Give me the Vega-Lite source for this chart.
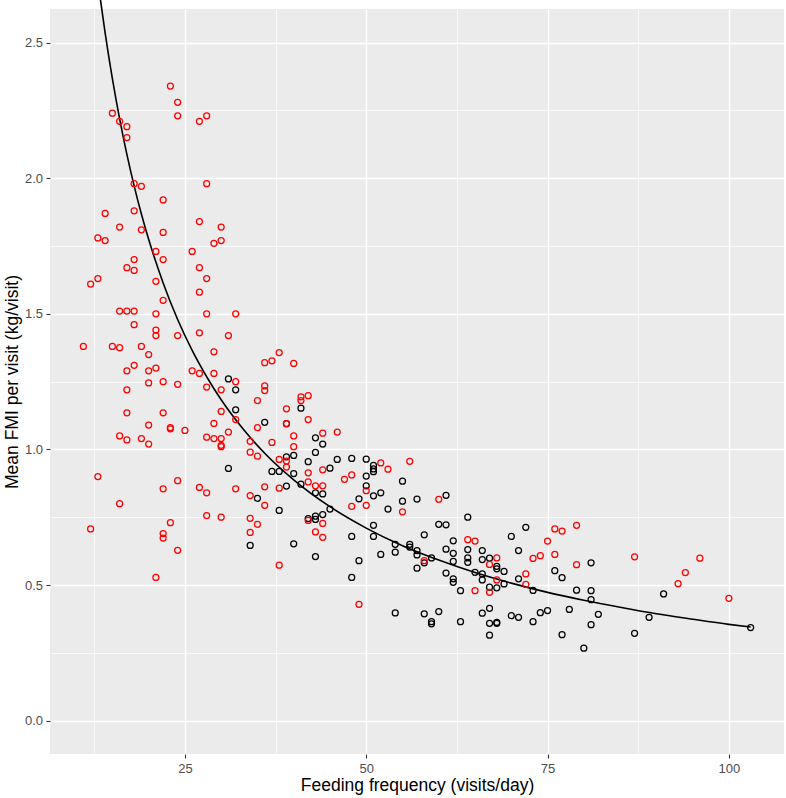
{
  "$schema": "https://vega.github.io/schema/vega-lite/v6.json",
  "width": 734,
  "height": 745,
  "autosize": "none",
  "padding": {"left": 50, "top": 9, "right": 2, "bottom": 44},
  "background": "white",
  "datasets": {
    "pts": [
      {"freq": 31, "fmi": 1.26, "grp": "black"}, {"freq": 32, "fmi": 1.22, "grp": "black"}, {"freq": 32, "fmi": 1.146, "grp": "black"},
      {"freq": 31, "fmi": 0.93, "grp": "black"}, {"freq": 35, "fmi": 0.82, "grp": "black"}, {"freq": 34, "fmi": 0.646, "grp": "black"},
      {"freq": 41, "fmi": 1.152, "grp": "black"}, {"freq": 36, "fmi": 1.10, "grp": "black"}, {"freq": 39, "fmi": 1.095, "grp": "black"},
      {"freq": 43, "fmi": 1.043, "grp": "black"}, {"freq": 44, "fmi": 1.02, "grp": "black"}, {"freq": 43, "fmi": 0.989, "grp": "black"},
      {"freq": 39, "fmi": 0.973, "grp": "black"}, {"freq": 40, "fmi": 0.978, "grp": "black"}, {"freq": 37, "fmi": 0.919, "grp": "black"},
      {"freq": 38, "fmi": 0.919, "grp": "black"}, {"freq": 40, "fmi": 0.911, "grp": "black"}, {"freq": 42, "fmi": 0.955, "grp": "black"},
      {"freq": 45, "fmi": 0.931, "grp": "black"}, {"freq": 46, "fmi": 0.963, "grp": "black"}, {"freq": 48, "fmi": 0.967, "grp": "black"},
      {"freq": 50, "fmi": 0.964, "grp": "black"}, {"freq": 51, "fmi": 0.941, "grp": "black"}, {"freq": 51, "fmi": 0.928, "grp": "black"},
      {"freq": 51, "fmi": 0.918, "grp": "black"}, {"freq": 41, "fmi": 0.872, "grp": "black"}, {"freq": 50, "fmi": 0.902, "grp": "black"},
      {"freq": 50, "fmi": 0.866, "grp": "black"}, {"freq": 52, "fmi": 0.84, "grp": "black"}, {"freq": 51, "fmi": 0.829, "grp": "black"},
      {"freq": 55, "fmi": 0.883, "grp": "black"}, {"freq": 55, "fmi": 0.809, "grp": "black"}, {"freq": 39, "fmi": 0.865, "grp": "black"},
      {"freq": 43, "fmi": 0.84, "grp": "black"}, {"freq": 44, "fmi": 0.836, "grp": "black"}, {"freq": 38, "fmi": 0.775, "grp": "black"},
      {"freq": 45, "fmi": 0.78, "grp": "black"}, {"freq": 49, "fmi": 0.818, "grp": "black"}, {"freq": 53, "fmi": 0.78, "grp": "black"},
      {"freq": 42, "fmi": 0.745, "grp": "black"}, {"freq": 43, "fmi": 0.754, "grp": "black"}, {"freq": 43, "fmi": 0.742, "grp": "black"},
      {"freq": 44, "fmi": 0.76, "grp": "black"}, {"freq": 40, "fmi": 0.652, "grp": "black"}, {"freq": 43, "fmi": 0.605, "grp": "black"},
      {"freq": 48, "fmi": 0.679, "grp": "black"}, {"freq": 49, "fmi": 0.59, "grp": "black"}, {"freq": 48, "fmi": 0.528, "grp": "black"},
      {"freq": 51, "fmi": 0.72, "grp": "black"}, {"freq": 51, "fmi": 0.679, "grp": "black"}, {"freq": 52, "fmi": 0.613, "grp": "black"},
      {"freq": 54, "fmi": 0.65, "grp": "black"}, {"freq": 54, "fmi": 0.621, "grp": "black"}, {"freq": 56, "fmi": 0.65, "grp": "black"},
      {"freq": 56, "fmi": 0.64, "grp": "black"}, {"freq": 54, "fmi": 0.397, "grp": "black"},
      {"freq": 57, "fmi": 0.817, "grp": "black"}, {"freq": 61, "fmi": 0.831, "grp": "black"}, {"freq": 64, "fmi": 0.75, "grp": "black"},
      {"freq": 60, "fmi": 0.724, "grp": "black"}, {"freq": 61, "fmi": 0.722, "grp": "black"}, {"freq": 58, "fmi": 0.685, "grp": "black"},
      {"freq": 57, "fmi": 0.627, "grp": "black"}, {"freq": 57, "fmi": 0.611, "grp": "black"}, {"freq": 62, "fmi": 0.663, "grp": "black"},
      {"freq": 61, "fmi": 0.632, "grp": "black"}, {"freq": 62, "fmi": 0.617, "grp": "black"}, {"freq": 64, "fmi": 0.631, "grp": "black"},
      {"freq": 66, "fmi": 0.627, "grp": "black"}, {"freq": 70, "fmi": 0.679, "grp": "black"}, {"freq": 72, "fmi": 0.713, "grp": "black"},
      {"freq": 71, "fmi": 0.627, "grp": "black"}, {"freq": 59, "fmi": 0.60, "grp": "black"}, {"freq": 62, "fmi": 0.587, "grp": "black"},
      {"freq": 64, "fmi": 0.60, "grp": "black"}, {"freq": 66, "fmi": 0.594, "grp": "black"}, {"freq": 67, "fmi": 0.599, "grp": "black"},
      {"freq": 57, "fmi": 0.562, "grp": "black"}, {"freq": 58, "fmi": 0.582, "grp": "black"}, {"freq": 61, "fmi": 0.544, "grp": "black"},
      {"freq": 62, "fmi": 0.523, "grp": "black"}, {"freq": 62, "fmi": 0.51, "grp": "black"}, {"freq": 63, "fmi": 0.479, "grp": "black"},
      {"freq": 64, "fmi": 0.584, "grp": "black"}, {"freq": 65, "fmi": 0.547, "grp": "black"}, {"freq": 66, "fmi": 0.541, "grp": "black"},
      {"freq": 66, "fmi": 0.519, "grp": "black"}, {"freq": 68, "fmi": 0.569, "grp": "black"}, {"freq": 68, "fmi": 0.56, "grp": "black"},
      {"freq": 69, "fmi": 0.55, "grp": "black"}, {"freq": 67, "fmi": 0.492, "grp": "black"}, {"freq": 68, "fmi": 0.49, "grp": "black"},
      {"freq": 69, "fmi": 0.504, "grp": "black"}, {"freq": 71, "fmi": 0.523, "grp": "black"}, {"freq": 73, "fmi": 0.48, "grp": "black"},
      {"freq": 58, "fmi": 0.394, "grp": "black"}, {"freq": 60, "fmi": 0.402, "grp": "black"}, {"freq": 59, "fmi": 0.365, "grp": "black"},
      {"freq": 59, "fmi": 0.357, "grp": "black"}, {"freq": 63, "fmi": 0.365, "grp": "black"}, {"freq": 66, "fmi": 0.396, "grp": "black"},
      {"freq": 67, "fmi": 0.414, "grp": "black"}, {"freq": 67, "fmi": 0.359, "grp": "black"}, {"freq": 68, "fmi": 0.359, "grp": "black"},
      {"freq": 68, "fmi": 0.362, "grp": "black"}, {"freq": 67, "fmi": 0.315, "grp": "black"}, {"freq": 70, "fmi": 0.387, "grp": "black"},
      {"freq": 71, "fmi": 0.381, "grp": "black"}, {"freq": 73, "fmi": 0.365, "grp": "black"}, {"freq": 74, "fmi": 0.398, "grp": "black"},
      {"freq": 75, "fmi": 0.406, "grp": "black"}, {"freq": 81, "fmi": 0.582, "grp": "black"}, {"freq": 76, "fmi": 0.553, "grp": "black"},
      {"freq": 77, "fmi": 0.527, "grp": "black"}, {"freq": 79, "fmi": 0.481, "grp": "black"}, {"freq": 81, "fmi": 0.479, "grp": "black"},
      {"freq": 81, "fmi": 0.446, "grp": "black"}, {"freq": 78, "fmi": 0.41, "grp": "black"}, {"freq": 82, "fmi": 0.392, "grp": "black"},
      {"freq": 81, "fmi": 0.354, "grp": "black"}, {"freq": 77, "fmi": 0.317, "grp": "black"}, {"freq": 80, "fmi": 0.267, "grp": "black"},
      {"freq": 87, "fmi": 0.322, "grp": "black"}, {"freq": 89, "fmi": 0.381, "grp": "black"}, {"freq": 91, "fmi": 0.467, "grp": "black"},
      {"freq": 103, "fmi": 0.343, "grp": "black"},
      {"freq": 23, "fmi": 2.34, "grp": "red"}, {"freq": 24, "fmi": 2.28, "grp": "red"}, {"freq": 15, "fmi": 2.24, "grp": "red"},
      {"freq": 24, "fmi": 2.23, "grp": "red"}, {"freq": 28, "fmi": 2.23, "grp": "red"}, {"freq": 27, "fmi": 2.21, "grp": "red"},
      {"freq": 16, "fmi": 2.21, "grp": "red"}, {"freq": 17, "fmi": 2.19, "grp": "red"}, {"freq": 17, "fmi": 2.15, "grp": "red"},
      {"freq": 18, "fmi": 1.98, "grp": "red"}, {"freq": 19, "fmi": 1.97, "grp": "red"}, {"freq": 28, "fmi": 1.98, "grp": "red"},
      {"freq": 22, "fmi": 1.92, "grp": "red"}, {"freq": 14, "fmi": 1.87, "grp": "red"}, {"freq": 18, "fmi": 1.88, "grp": "red"},
      {"freq": 27, "fmi": 1.84, "grp": "red"}, {"freq": 30, "fmi": 1.82, "grp": "red"}, {"freq": 16, "fmi": 1.82, "grp": "red"},
      {"freq": 19, "fmi": 1.81, "grp": "red"}, {"freq": 22, "fmi": 1.80, "grp": "red"}, {"freq": 13, "fmi": 1.78, "grp": "red"},
      {"freq": 14, "fmi": 1.77, "grp": "red"}, {"freq": 29, "fmi": 1.76, "grp": "red"}, {"freq": 30, "fmi": 1.77, "grp": "red"},
      {"freq": 21, "fmi": 1.73, "grp": "red"}, {"freq": 26, "fmi": 1.73, "grp": "red"}, {"freq": 18, "fmi": 1.70, "grp": "red"},
      {"freq": 22, "fmi": 1.70, "grp": "red"}, {"freq": 17, "fmi": 1.67, "grp": "red"}, {"freq": 18, "fmi": 1.66, "grp": "red"},
      {"freq": 27, "fmi": 1.67, "grp": "red"}, {"freq": 13, "fmi": 1.63, "grp": "red"}, {"freq": 12, "fmi": 1.61, "grp": "red"},
      {"freq": 21, "fmi": 1.62, "grp": "red"}, {"freq": 28, "fmi": 1.63, "grp": "red"}, {"freq": 27, "fmi": 1.58, "grp": "red"},
      {"freq": 22, "fmi": 1.55, "grp": "red"}, {"freq": 16, "fmi": 1.51, "grp": "red"}, {"freq": 17, "fmi": 1.51, "grp": "red"},
      {"freq": 18, "fmi": 1.51, "grp": "red"}, {"freq": 21, "fmi": 1.50, "grp": "red"}, {"freq": 28, "fmi": 1.50, "grp": "red"},
      {"freq": 32, "fmi": 1.50, "grp": "red"}, {"freq": 18, "fmi": 1.46, "grp": "red"}, {"freq": 21, "fmi": 1.44, "grp": "red"},
      {"freq": 21, "fmi": 1.42, "grp": "red"}, {"freq": 24, "fmi": 1.42, "grp": "red"}, {"freq": 27, "fmi": 1.43, "grp": "red"},
      {"freq": 31, "fmi": 1.42, "grp": "red"}, {"freq": 11, "fmi": 1.38, "grp": "red"}, {"freq": 15, "fmi": 1.38, "grp": "red"},
      {"freq": 16, "fmi": 1.375, "grp": "red"}, {"freq": 19, "fmi": 1.38, "grp": "red"}, {"freq": 20, "fmi": 1.35, "grp": "red"},
      {"freq": 29, "fmi": 1.36, "grp": "red"}, {"freq": 17, "fmi": 1.29, "grp": "red"}, {"freq": 18, "fmi": 1.31, "grp": "red"},
      {"freq": 20, "fmi": 1.29, "grp": "red"}, {"freq": 21, "fmi": 1.30, "grp": "red"}, {"freq": 26, "fmi": 1.29, "grp": "red"},
      {"freq": 27, "fmi": 1.28, "grp": "red"}, {"freq": 29, "fmi": 1.28, "grp": "red"}, {"freq": 32, "fmi": 1.25, "grp": "red"},
      {"freq": 20, "fmi": 1.245, "grp": "red"}, {"freq": 22, "fmi": 1.25, "grp": "red"}, {"freq": 24, "fmi": 1.24, "grp": "red"},
      {"freq": 17, "fmi": 1.22, "grp": "red"}, {"freq": 28, "fmi": 1.23, "grp": "red"}, {"freq": 30, "fmi": 1.22, "grp": "red"},
      {"freq": 35, "fmi": 1.18, "grp": "red"}, {"freq": 17, "fmi": 1.135, "grp": "red"}, {"freq": 22, "fmi": 1.135, "grp": "red"},
      {"freq": 30, "fmi": 1.14, "grp": "red"}, {"freq": 32, "fmi": 1.11, "grp": "red"}, {"freq": 20, "fmi": 1.09, "grp": "red"},
      {"freq": 23, "fmi": 1.076, "grp": "red"}, {"freq": 23, "fmi": 1.08, "grp": "red"}, {"freq": 25, "fmi": 1.07, "grp": "red"},
      {"freq": 29, "fmi": 1.096, "grp": "red"}, {"freq": 35, "fmi": 1.08, "grp": "red"}, {"freq": 16, "fmi": 1.05, "grp": "red"},
      {"freq": 17, "fmi": 1.035, "grp": "red"}, {"freq": 19, "fmi": 1.04, "grp": "red"}, {"freq": 20, "fmi": 1.02, "grp": "red"},
      {"freq": 28, "fmi": 1.045, "grp": "red"}, {"freq": 29, "fmi": 1.04, "grp": "red"}, {"freq": 30, "fmi": 1.04, "grp": "red"},
      {"freq": 30, "fmi": 1.01, "grp": "red"}, {"freq": 30, "fmi": 1.015, "grp": "red"}, {"freq": 31, "fmi": 1.064, "grp": "red"},
      {"freq": 34, "fmi": 1.03, "grp": "red"}, {"freq": 34, "fmi": 0.99, "grp": "red"}, {"freq": 35, "fmi": 0.975, "grp": "red"},
      {"freq": 13, "fmi": 0.90, "grp": "red"}, {"freq": 24, "fmi": 0.885, "grp": "red"}, {"freq": 22, "fmi": 0.855, "grp": "red"},
      {"freq": 27, "fmi": 0.86, "grp": "red"}, {"freq": 28, "fmi": 0.84, "grp": "red"}, {"freq": 32, "fmi": 0.855, "grp": "red"},
      {"freq": 34, "fmi": 0.83, "grp": "red"}, {"freq": 16, "fmi": 0.80, "grp": "red"}, {"freq": 28, "fmi": 0.756, "grp": "red"},
      {"freq": 30, "fmi": 0.75, "grp": "red"}, {"freq": 34, "fmi": 0.746, "grp": "red"}, {"freq": 35, "fmi": 0.724, "grp": "red"},
      {"freq": 12, "fmi": 0.707, "grp": "red"}, {"freq": 23, "fmi": 0.73, "grp": "red"}, {"freq": 22, "fmi": 0.69, "grp": "red"},
      {"freq": 22, "fmi": 0.673, "grp": "red"}, {"freq": 34, "fmi": 0.694, "grp": "red"}, {"freq": 24, "fmi": 0.628, "grp": "red"},
      {"freq": 21, "fmi": 0.528, "grp": "red"},
      {"freq": 38, "fmi": 1.357, "grp": "red"}, {"freq": 36, "fmi": 1.32, "grp": "red"}, {"freq": 37, "fmi": 1.327, "grp": "red"},
      {"freq": 40, "fmi": 1.317, "grp": "red"}, {"freq": 36, "fmi": 1.234, "grp": "red"}, {"freq": 36, "fmi": 1.217, "grp": "red"},
      {"freq": 41, "fmi": 1.194, "grp": "red"}, {"freq": 41, "fmi": 1.18, "grp": "red"}, {"freq": 42, "fmi": 1.198, "grp": "red"},
      {"freq": 39, "fmi": 1.15, "grp": "red"}, {"freq": 39, "fmi": 1.095, "grp": "red"}, {"freq": 42, "fmi": 1.11, "grp": "red"},
      {"freq": 37, "fmi": 1.026, "grp": "red"}, {"freq": 40, "fmi": 1.05, "grp": "red"}, {"freq": 44, "fmi": 1.06, "grp": "red"},
      {"freq": 46, "fmi": 1.064, "grp": "red"}, {"freq": 40, "fmi": 1.01, "grp": "red"}, {"freq": 38, "fmi": 0.963, "grp": "red"},
      {"freq": 39, "fmi": 0.957, "grp": "red"}, {"freq": 39, "fmi": 0.935, "grp": "red"}, {"freq": 42, "fmi": 0.914, "grp": "red"},
      {"freq": 44, "fmi": 0.925, "grp": "red"}, {"freq": 52, "fmi": 0.95, "grp": "red"}, {"freq": 53, "fmi": 0.927, "grp": "red"},
      {"freq": 56, "fmi": 0.956, "grp": "red"}, {"freq": 42, "fmi": 0.88, "grp": "red"}, {"freq": 43, "fmi": 0.866, "grp": "red"},
      {"freq": 44, "fmi": 0.866, "grp": "red"}, {"freq": 47, "fmi": 0.89, "grp": "red"}, {"freq": 48, "fmi": 0.906, "grp": "red"},
      {"freq": 50, "fmi": 0.848, "grp": "red"}, {"freq": 36, "fmi": 0.862, "grp": "red"}, {"freq": 38, "fmi": 0.857, "grp": "red"},
      {"freq": 36, "fmi": 0.794, "grp": "red"}, {"freq": 48, "fmi": 0.79, "grp": "red"}, {"freq": 50, "fmi": 0.794, "grp": "red"},
      {"freq": 55, "fmi": 0.77, "grp": "red"}, {"freq": 42, "fmi": 0.738, "grp": "red"}, {"freq": 44, "fmi": 0.727, "grp": "red"},
      {"freq": 43, "fmi": 0.696, "grp": "red"}, {"freq": 44, "fmi": 0.676, "grp": "red"}, {"freq": 38, "fmi": 0.573, "grp": "red"},
      {"freq": 49, "fmi": 0.429, "grp": "red"}, {"freq": 60, "fmi": 0.816, "grp": "red"}, {"freq": 64, "fmi": 0.667, "grp": "red"},
      {"freq": 65, "fmi": 0.662, "grp": "red"}, {"freq": 75, "fmi": 0.662, "grp": "red"}, {"freq": 68, "fmi": 0.60, "grp": "red"},
      {"freq": 73, "fmi": 0.598, "grp": "red"}, {"freq": 74, "fmi": 0.608, "grp": "red"}, {"freq": 58, "fmi": 0.59, "grp": "red"},
      {"freq": 65, "fmi": 0.479, "grp": "red"}, {"freq": 67, "fmi": 0.576, "grp": "red"}, {"freq": 68, "fmi": 0.519, "grp": "red"},
      {"freq": 67, "fmi": 0.473, "grp": "red"}, {"freq": 72, "fmi": 0.541, "grp": "red"}, {"freq": 72, "fmi": 0.502, "grp": "red"},
      {"freq": 76, "fmi": 0.707, "grp": "red"}, {"freq": 77, "fmi": 0.699, "grp": "red"}, {"freq": 79, "fmi": 0.72, "grp": "red"},
      {"freq": 76, "fmi": 0.613, "grp": "red"}, {"freq": 79, "fmi": 0.575, "grp": "red"}, {"freq": 87, "fmi": 0.604, "grp": "red"},
      {"freq": 93, "fmi": 0.505, "grp": "red"}, {"freq": 94, "fmi": 0.546, "grp": "red"}, {"freq": 96, "fmi": 0.599, "grp": "red"},
      {"freq": 100, "fmi": 0.451, "grp": "red"}
    ],
    "fit": [
      {"freq": 13.3, "fmi": 2.669}, {"freq": 14, "fmi": 2.536}, {"freq": 15, "fmi": 2.367}, {"freq": 16, "fmi": 2.219},
      {"freq": 17, "fmi": 2.088}, {"freq": 18, "fmi": 1.972}, {"freq": 19, "fmi": 1.868}, {"freq": 20, "fmi": 1.775},
      {"freq": 22, "fmi": 1.614}, {"freq": 24, "fmi": 1.479}, {"freq": 26, "fmi": 1.365}, {"freq": 28, "fmi": 1.268},
      {"freq": 30, "fmi": 1.183}, {"freq": 33, "fmi": 1.076}, {"freq": 36, "fmi": 0.986}, {"freq": 40, "fmi": 0.888},
      {"freq": 45, "fmi": 0.789}, {"freq": 50, "fmi": 0.710}, {"freq": 55, "fmi": 0.645}, {"freq": 60, "fmi": 0.592},
      {"freq": 65, "fmi": 0.546}, {"freq": 70, "fmi": 0.507}, {"freq": 75, "fmi": 0.473}, {"freq": 80, "fmi": 0.444},
      {"freq": 85, "fmi": 0.418}, {"freq": 90, "fmi": 0.394}, {"freq": 95, "fmi": 0.374}, {"freq": 100, "fmi": 0.355},
      {"freq": 103, "fmi": 0.345}
    ]
  },
  "layer": [
    {
      "data": {"name": "fit"},
      "mark": {"type": "line", "color": "black", "strokeWidth": 1.6, "interpolate": "monotone", "clip": false},
      "encoding": {
        "x": {
          "field": "freq", "type": "quantitative",
          "scale": {"domain": [6.4, 107.6], "nice": false, "zero": false},
          "axis": {"orient": "bottom", "values": [12.5, 37.5, 62.5, 87.5], "grid": true, "gridWidth": 0.7,
                   "labels": false, "ticks": false, "domain": false, "title": null}
        },
        "y": {
          "field": "fmi", "type": "quantitative",
          "scale": {"domain": [-0.123, 2.624], "nice": false, "zero": false},
          "axis": {"orient": "left", "values": [0.25, 0.75, 1.25, 1.75, 2.25], "grid": true, "gridWidth": 0.7,
                   "labels": false, "ticks": false, "domain": false, "title": null}
        }
      }
    },
    {
      "data": {"name": "pts"},
      "mark": {"type": "point", "shape": "circle", "filled": false, "size": 36, "strokeWidth": 1.25, "opacity": 1},
      "encoding": {
        "x": {
          "field": "freq", "type": "quantitative",
          "scale": {"domain": [6.4, 107.6], "nice": false, "zero": false},
          "axis": {"orient": "bottom", "values": [25, 50, 75, 100], "grid": true, "gridWidth": 1.4,
                   "title": "Feeding frequency (visits/day)", "titlePadding": 1, "labelPadding": 4}
        },
        "y": {
          "field": "fmi", "type": "quantitative",
          "scale": {"domain": [-0.123, 2.624], "nice": false, "zero": false},
          "axis": {"orient": "left", "values": [0, 0.5, 1, 1.5, 2, 2.5], "format": ".1f", "grid": true, "gridWidth": 1.4,
                   "title": "Mean FMI per visit (kg/visit)", "titlePadding": 3, "labelPadding": 3.5}
        },
        "color": {
          "field": "grp", "type": "nominal",
          "scale": {"domain": ["red", "black"], "range": ["#FF0000", "#000000"]},
          "legend": null
        }
      }
    }
  ],
  "resolve": {"axis": {"x": "independent", "y": "independent"}},
  "config": {
    "font": "Liberation Sans",
    "view": {"fill": "#EBEBEB", "stroke": null},
    "axis": {
      "gridColor": "#FFFFFF",
      "gridOpacity": 1,
      "domain": false,
      "tickColor": "#333333",
      "tickSize": 4,
      "tickWidth": 1.1,
      "labelColor": "#4D4D4D",
      "labelFontSize": 13,
      "labelFont": "Liberation Sans",
      "titleFont": "Liberation Sans",
      "titleFontSize": 17.5,
      "titleFontWeight": "normal",
      "titleColor": "#000000"
    }
  }
}
